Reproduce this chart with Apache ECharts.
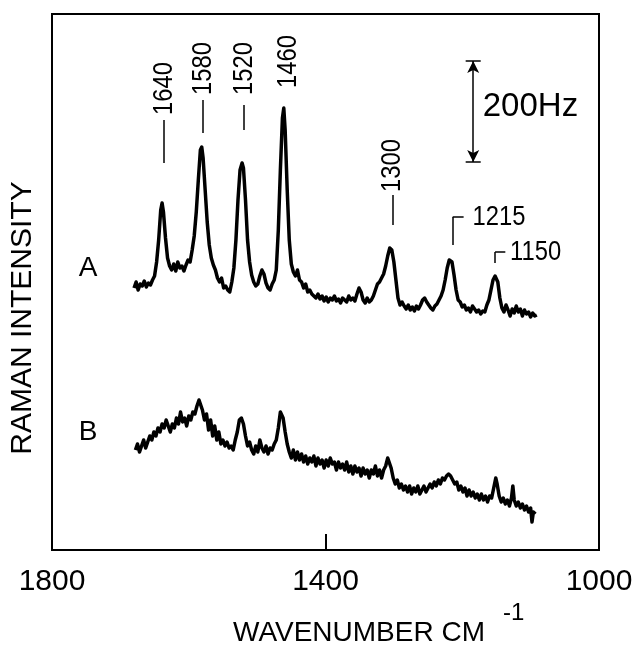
<!DOCTYPE html>
<html>
<head>
<meta charset="utf-8">
<script src="https://cdn.jsdelivr.net/npm/echarts@6/dist/echarts.min.js"></script>
<style>
  html, body { margin: 0; padding: 0; background: #fff; }
  #chart { width: 639px; height: 647px; }
</style>
</head>
<body>
<div id="chart"></div>
<script>
// wavenumber ticks shown on the axis
const tickValues = [1800, 1400, 1000];

// trace A: [wavenumber cm-1, intensity (arb. units)]
const specA = [
  [1680,262],[1677,268],[1674,260],[1671,266],[1668,264],[1665,269],[1662,263],[1659,267],[1656,265],[1653,270],
  [1650,274],[1647,288],[1644,310],[1641,340],[1639,347],[1637,338],[1634,312],[1631,292],[1628,284],[1625,280],
  [1622,286],[1619,279],[1616,288],[1613,282],[1610,284],[1607,279],[1604,285],[1601,290],[1598,288],[1595,300],
  [1592,314],[1589,338],[1586,370],[1583,400],[1581,403],[1579,392],[1576,360],[1573,328],[1570,305],[1567,292],
  [1564,285],[1561,280],[1558,272],[1555,268],[1552,272],[1549,262],[1546,264],[1543,260],[1540,258],[1537,268],
  [1534,282],[1531,310],[1528,350],[1525,380],[1522,387],[1520,382],[1517,350],[1514,310],[1511,288],[1508,275],
  [1505,268],[1502,264],[1499,266],[1496,274],[1493,280],[1490,276],[1487,267],[1484,262],[1481,260],[1478,266],
  [1475,270],[1472,280],[1469,320],[1466,380],[1463,432],[1461,442],[1459,420],[1456,360],[1453,310],[1450,286],
  [1447,278],[1444,274],[1441,280],[1438,270],[1435,268],[1432,262],[1429,266],[1426,258],[1423,260],[1420,256],
  [1417,254],[1414,252],[1411,256],[1408,251],[1405,254],[1402,249],[1399,253],[1396,248],[1393,252],[1390,250],
  [1387,254],[1384,249],[1381,251],[1378,247],[1375,252],[1372,250],[1369,248],[1366,254],[1363,250],[1360,252],
  [1357,249],[1354,256],[1351,262],[1348,258],[1345,250],[1342,247],[1339,252],[1336,248],[1333,250],[1330,254],
  [1327,260],[1324,266],[1321,268],[1318,272],[1315,276],[1312,284],[1309,294],[1306,302],[1303,300],[1300,288],
  [1297,270],[1294,252],[1291,245],[1288,248],[1285,244],[1282,241],[1279,245],[1276,240],[1273,243],[1270,239],
  [1267,244],[1264,241],[1261,245],[1258,250],[1255,252],[1252,248],[1249,245],[1246,242],[1243,240],[1240,244],
  [1237,246],[1234,250],[1231,254],[1228,260],[1225,270],[1222,282],[1219,290],[1217,291],[1215,288],[1212,275],
  [1209,260],[1206,250],[1203,248],[1200,243],[1197,245],[1194,240],[1191,242],[1188,238],[1185,244],[1182,241],
  [1179,238],[1176,240],[1173,236],[1170,239],[1167,238],[1164,245],[1161,250],[1158,260],[1155,270],[1152,274],
  [1150,275],[1148,268],[1145,252],[1142,242],[1139,238],[1136,245],[1133,240],[1130,234],[1127,241],[1124,237],
  [1121,244],[1118,238],[1115,241],[1112,234],[1109,240],[1106,236],[1103,238],[1100,233],[1097,237],[1094,234],
  [1091,235]
];

// trace B: [wavenumber cm-1, intensity (arb. units)]
const specB = [
  [1678,100],[1675,106],[1672,98],[1669,104],[1666,110],[1663,102],[1660,108],[1657,114],[1654,110],[1651,118],
  [1648,114],[1645,122],[1642,118],[1639,126],[1636,122],[1633,130],[1630,124],[1627,118],[1624,126],[1621,122],
  [1618,132],[1615,126],[1612,138],[1609,128],[1606,132],[1603,124],[1600,134],[1597,130],[1594,138],[1591,136],
  [1588,144],[1585,150],[1583,148],[1580,140],[1577,130],[1574,136],[1571,120],[1568,130],[1565,114],[1562,124],
  [1559,110],[1556,118],[1553,106],[1550,110],[1547,104],[1544,108],[1541,102],[1538,104],[1535,100],[1532,110],
  [1529,118],[1526,130],[1523,132],[1520,126],[1517,114],[1514,104],[1511,108],[1508,100],[1505,96],[1502,104],
  [1499,98],[1496,110],[1493,102],[1490,98],[1487,104],[1484,96],[1481,102],[1478,100],[1475,106],[1472,110],
  [1469,122],[1466,138],[1464,140],[1462,132],[1459,118],[1456,106],[1453,98],[1450,92],[1447,100],[1444,90],
  [1441,98],[1438,90],[1435,96],[1432,88],[1429,94],[1426,86],[1423,92],[1420,88],[1417,94],[1414,84],
  [1411,92],[1408,86],[1405,90],[1402,82],[1399,90],[1396,84],[1393,92],[1390,86],[1387,88],[1384,80],
  [1381,88],[1378,82],[1375,86],[1372,80],[1369,88],[1366,78],[1363,84],[1360,76],[1357,84],[1354,78],
  [1351,82],[1348,74],[1345,82],[1342,76],[1339,80],[1336,72],[1333,80],[1330,76],[1327,84],[1324,74],
  [1321,80],[1318,72],[1315,80],[1312,84],[1309,92],[1307,94],[1304,82],[1301,72],[1298,66],[1295,70],
  [1292,62],[1289,66],[1286,60],[1283,64],[1280,58],[1277,64],[1274,56],[1271,62],[1268,58],[1265,64],
  [1262,56],[1259,60],[1256,64],[1253,58],[1250,62],[1247,66],[1244,62],[1241,68],[1238,64],[1235,70],
  [1232,66],[1229,72],[1226,70],[1223,74],[1220,76],[1217,74],[1214,70],[1211,66],[1208,68],[1205,60],
  [1202,64],[1199,58],[1196,62],[1193,54],[1190,60],[1187,54],[1184,58],[1181,52],[1178,56],[1175,50],
  [1172,56],[1169,50],[1166,54],[1163,48],[1160,54],[1157,52],[1154,62],[1151,72],[1149,66],[1146,54],
  [1143,48],[1140,52],[1137,46],[1134,50],[1131,44],[1128,52],[1126,64],[1124,50],[1121,44],[1118,48],
  [1115,42],[1112,46],[1109,40],[1106,44],[1103,38],[1100,42],[1098,28],[1096,38],[1093,36]
];

// peak assignments
const peakNames = ['1640', '1580', '1520', '1460', '1300', '1215', '1150'];
const traceNames = ['A', 'B'];
const scaleText = '200Hz';

// where the notes sit, in data coords: [wavenumber, intensity, vertical?]
const peakPlace = [
  [1636, 435, 1], [1579, 455, 1], [1519, 455, 1], [1455, 462, 1],
  [1302, 358, 1], [1185, 333, 0], [1130, 298, 0]
];
const tracePlace = [[1761, 282], [1761, 118]];
const scalePlace = [1170, 443];

// leader ticks / brackets: [wn1, i1, wn2, i2]
const leaders = [
  [1636, 387, 1636, 430], [1579, 417, 1579, 450], [1519, 420, 1519, 445],
  [1302, 325, 1302, 355],
  [1214, 305, 1214, 333], [1214, 333, 1198, 333],
  [1152, 287, 1152, 298], [1152, 298, 1137, 298],
  [1195, 489, 1173, 489], [1195, 388, 1173, 388]
];
const scaleBar = [1184, 388, 1184, 489];

const FONT = '"Liberation Sans", Arial, sans-serif';
const notes = [];
peakNames.forEach((t, i) => notes.push({ p: peakPlace[i], text: t, rot: peakPlace[i][2], size: 28, sx: 0.85 }));
traceNames.forEach((t, i) => notes.push({ p: tracePlace[i], text: t, rot: 0, size: 28, sx: 1 }));
notes.push({ p: scalePlace, text: scaleText, rot: 0, size: 33, sx: 1 });

const chart = echarts.init(document.getElementById('chart'));

const lineData = leaders.map(s => [{ coord: [s[0], s[1]] }, { coord: [s[2], s[3]] }]);
lineData.push([
  { coord: [scaleBar[0], scaleBar[1]], symbol: 'arrow', symbolSize: [9, 12] },
  { coord: [scaleBar[2], scaleBar[3]], symbol: 'arrow', symbolSize: [9, 12] }
]);

chart.setOption({
  animation: false,
  backgroundColor: '#fff',
  grid: { left: 50, right: 40, top: 14, bottom: 97, show: true, borderColor: '#000', borderWidth: 2 },
  graphic: [
    { type: 'text', left: 233, top: 619, style: { text: 'WAVENUMBER CM', font: '28px ' + FONT, fill: '#000' } },
    { type: 'text', left: 503, top: 601, style: { text: '-1', font: '24px ' + FONT, fill: '#000' } }
  ],
  xAxis: {
    type: 'value', min: 1000, max: 1800, inverse: true,
    axisLine: { show: true, lineStyle: { color: '#000', width: 2 } },
    axisTick: { show: true, inside: true, length: 16, customValues: [1400], lineStyle: { color: '#000', width: 2 } },
    axisLabel: { customValues: tickValues, formatter: v => String(v), fontSize: 30, fontFamily: 'Liberation Sans', color: '#000', margin: 17 },
    splitLine: { show: false }
  },
  yAxis: {
    type: 'value', min: 0, max: 536,
    name: 'RAMAN INTENSITY', nameLocation: 'middle', nameGap: 14,
    nameTextStyle: { fontSize: 30, fontFamily: 'Liberation Sans', color: '#000', padding: [0, 72, 0, 0] },
    axisLine: { show: false }, axisTick: { show: false }, axisLabel: { show: false }, splitLine: { show: false }
  },
  series: [
    {
      name: 'A', type: 'line', data: specA, showSymbol: false, silent: true,
      lineStyle: { color: '#000', width: 3.5, join: 'round' },
      markLine: {
        silent: true, symbol: 'none', label: { show: false },
        lineStyle: { color: '#000', width: 1.5, type: 'solid' },
        emphasis: { disabled: true },
        data: lineData
      }
    },
    {
      name: 'B', type: 'line', data: specB, showSymbol: false, silent: true,
      lineStyle: { color: '#000', width: 3.5, join: 'round' }
    },
    {
      type: 'custom', silent: true, clip: false, z: 5,
      data: notes.map(n => [n.p[0], n.p[1]]),
      encode: { x: 0, y: 1 },
      renderItem: function (params, api) {
        const n = notes[params.dataIndex];
        const pt = api.coord([api.value(0), api.value(1)]);
        return {
          type: 'text', x: pt[0], y: pt[1], rotation: n.rot ? Math.PI / 2 : 0, scaleX: n.sx,
          style: { text: n.text, font: n.size + 'px ' + FONT, fill: '#000', align: 'left', verticalAlign: 'middle' }
        };
      }
    }
  ]
});
</script>
</body>
</html>
